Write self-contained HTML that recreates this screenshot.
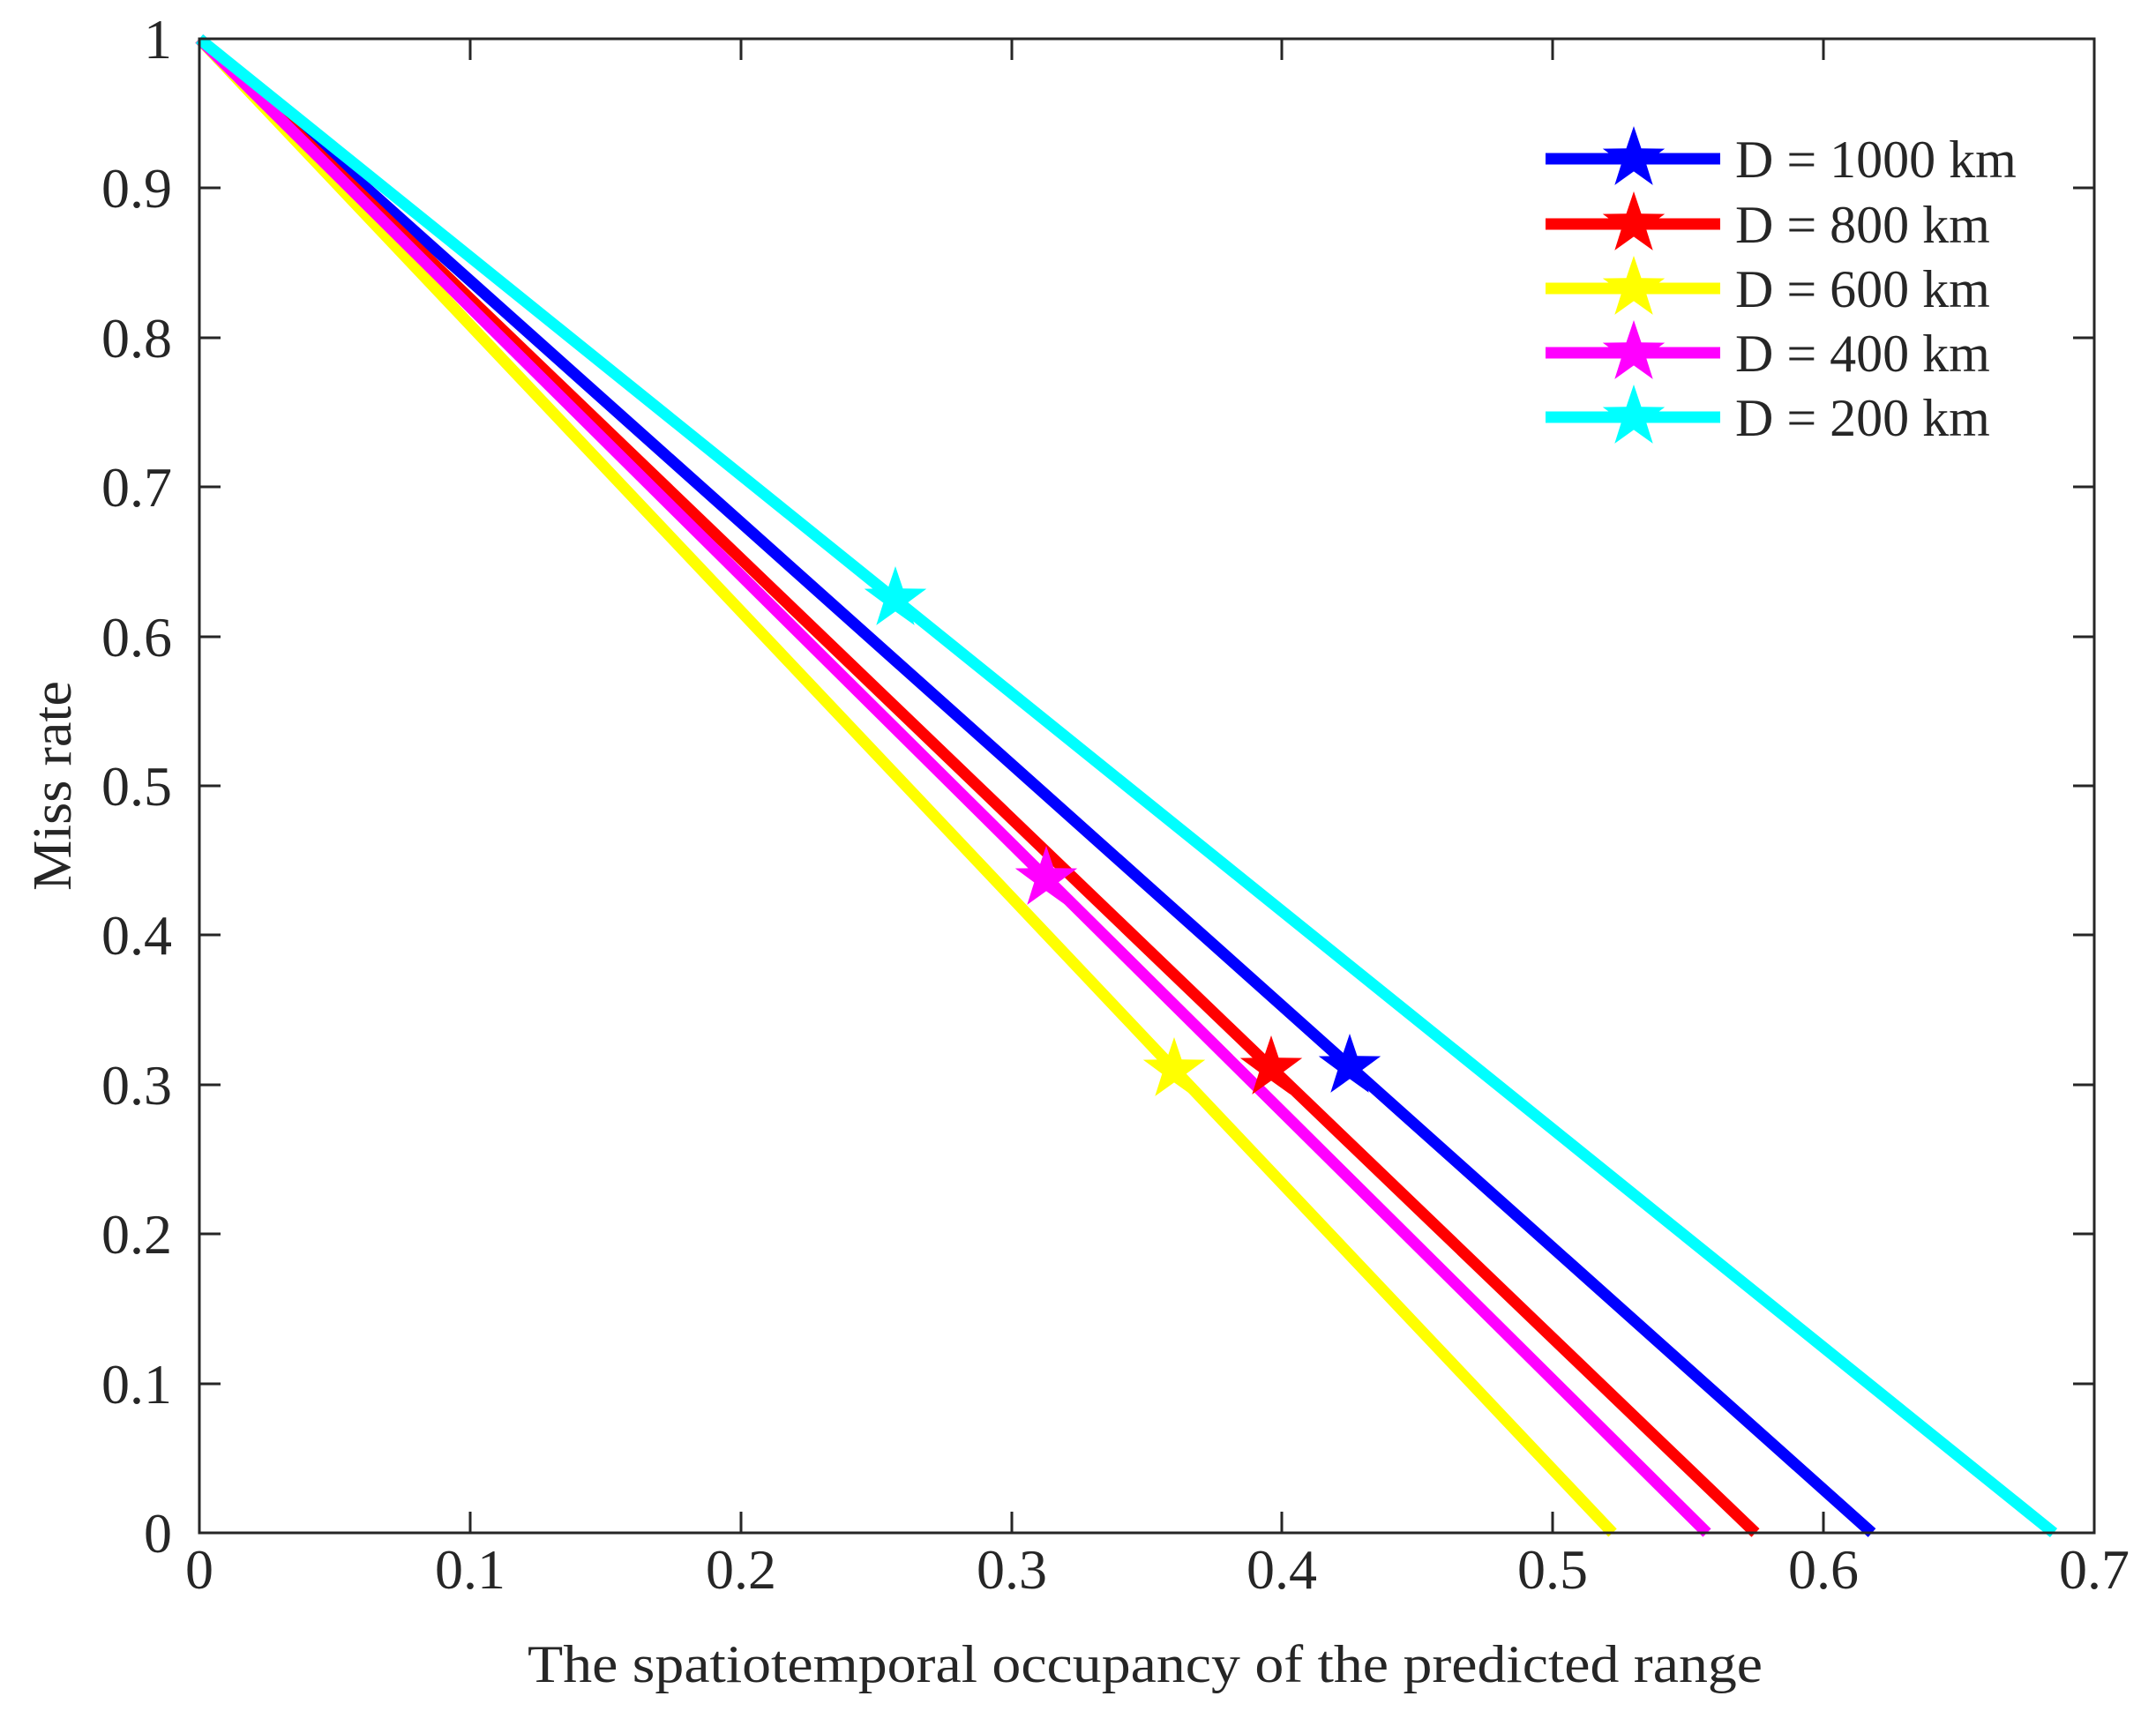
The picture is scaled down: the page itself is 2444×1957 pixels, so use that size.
<!DOCTYPE html>
<html><head><meta charset="utf-8"><style>
html,body{margin:0;padding:0;background:#fff;}
svg{display:block;}
text{font-family:"Liberation Serif",serif;fill:#262626;}
</style></head><body>
<svg width="2444" height="1957" viewBox="0 0 2444 1957" xmlns="http://www.w3.org/2000/svg">
<defs>
<polygon id="st" points="0,-37 8.5,-11.7 35.2,-11.4 13.7,4.5 21.7,29.9 0,14.4 -21.7,29.9 -13.7,4.5 -35.2,-11.4 -8.5,-11.7"/>
</defs>
<rect x="0" y="0" width="2444" height="1957" fill="#fff"/>
<g stroke-width="13" stroke-linecap="butt" fill="none">
<line x1="226" y1="44" x2="2122" y2="1738" stroke="#0000ff"/>
<line x1="226" y1="44" x2="1990" y2="1738" stroke="#ff0000"/>
<line x1="226" y1="44" x2="1828" y2="1738" stroke="#ffff00"/>
<line x1="226" y1="44" x2="1935" y2="1738" stroke="#ff00ff"/>
<line x1="226" y1="44" x2="2328" y2="1738" stroke="#00ffff"/>
</g>
<use href="#st" x="1530" y="1209" fill="#0000ff"/>
<use href="#st" x="1441" y="1211" fill="#ff0000"/>
<use href="#st" x="1331" y="1213" fill="#ffff00"/>
<use href="#st" x="1186" y="996" fill="#ff00ff"/>
<use href="#st" x="1015" y="679" fill="#00ffff"/>
<rect x="226" y="44" width="2148" height="1694" fill="none" stroke="#262626" stroke-width="3"/>
<g stroke="#262626" stroke-width="3">
<line x1="533" y1="1738" x2="533" y2="1714"/><line x1="533" y1="44" x2="533" y2="68"/>
<line x1="840" y1="1738" x2="840" y2="1714"/><line x1="840" y1="44" x2="840" y2="68"/>
<line x1="1147" y1="1738" x2="1147" y2="1714"/><line x1="1147" y1="44" x2="1147" y2="68"/>
<line x1="1453" y1="1738" x2="1453" y2="1714"/><line x1="1453" y1="44" x2="1453" y2="68"/>
<line x1="1760" y1="1738" x2="1760" y2="1714"/><line x1="1760" y1="44" x2="1760" y2="68"/>
<line x1="2067" y1="1738" x2="2067" y2="1714"/><line x1="2067" y1="44" x2="2067" y2="68"/>
<line x1="226" y1="213" x2="250" y2="213"/><line x1="2374" y1="213" x2="2350" y2="213"/>
<line x1="226" y1="383" x2="250" y2="383"/><line x1="2374" y1="383" x2="2350" y2="383"/>
<line x1="226" y1="552" x2="250" y2="552"/><line x1="2374" y1="552" x2="2350" y2="552"/>
<line x1="226" y1="722" x2="250" y2="722"/><line x1="2374" y1="722" x2="2350" y2="722"/>
<line x1="226" y1="891" x2="250" y2="891"/><line x1="2374" y1="891" x2="2350" y2="891"/>
<line x1="226" y1="1060" x2="250" y2="1060"/><line x1="2374" y1="1060" x2="2350" y2="1060"/>
<line x1="226" y1="1230" x2="250" y2="1230"/><line x1="2374" y1="1230" x2="2350" y2="1230"/>
<line x1="226" y1="1399" x2="250" y2="1399"/><line x1="2374" y1="1399" x2="2350" y2="1399"/>
<line x1="226" y1="1569" x2="250" y2="1569"/><line x1="2374" y1="1569" x2="2350" y2="1569"/>
</g>
<g font-size="64" text-anchor="end">
<text x="195" y="66">1</text>
<text x="195" y="235">0.9</text>
<text x="195" y="405">0.8</text>
<text x="195" y="574">0.7</text>
<text x="195" y="744">0.6</text>
<text x="195" y="913">0.5</text>
<text x="195" y="1082">0.4</text>
<text x="195" y="1252">0.3</text>
<text x="195" y="1421">0.2</text>
<text x="195" y="1591">0.1</text>
<text x="195" y="1760">0</text>
</g>
<g font-size="64" text-anchor="middle">
<text x="226" y="1801">0</text>
<text x="533" y="1801">0.1</text>
<text x="840" y="1801">0.2</text>
<text x="1147" y="1801">0.3</text>
<text x="1453" y="1801">0.4</text>
<text x="1760" y="1801">0.5</text>
<text x="2067" y="1801">0.6</text>
<text x="2374" y="1801">0.7</text>
</g>
<text x="1298" y="1907" font-size="60" text-anchor="middle" textLength="1400" lengthAdjust="spacingAndGlyphs">The spatiotemporal occupancy of the predicted range</text>
<text transform="translate(80,891) rotate(-90)" font-size="62" text-anchor="middle" textLength="238" lengthAdjust="spacingAndGlyphs">Miss rate</text>
<g stroke-width="13">
<line x1="1752" y1="180" x2="1950" y2="180" stroke="#0000ff"/>
<line x1="1752" y1="254" x2="1950" y2="254" stroke="#ff0000"/>
<line x1="1752" y1="327" x2="1950" y2="327" stroke="#ffff00"/>
<line x1="1752" y1="400" x2="1950" y2="400" stroke="#ff00ff"/>
<line x1="1752" y1="473" x2="1950" y2="473" stroke="#00ffff"/>
</g>
<use href="#st" x="1852" y="180" fill="#0000ff"/>
<use href="#st" x="1852" y="254" fill="#ff0000"/>
<use href="#st" x="1852" y="327" fill="#ffff00"/>
<use href="#st" x="1852" y="400" fill="#ff00ff"/>
<use href="#st" x="1852" y="473" fill="#00ffff"/>
<g font-size="60">
<text x="1967" y="201">D = 1000 km</text>
<text x="1967" y="275">D = 800 km</text>
<text x="1967" y="348">D = 600 km</text>
<text x="1967" y="421">D = 400 km</text>
<text x="1967" y="494">D = 200 km</text>
</g>
</svg>
</body></html>
